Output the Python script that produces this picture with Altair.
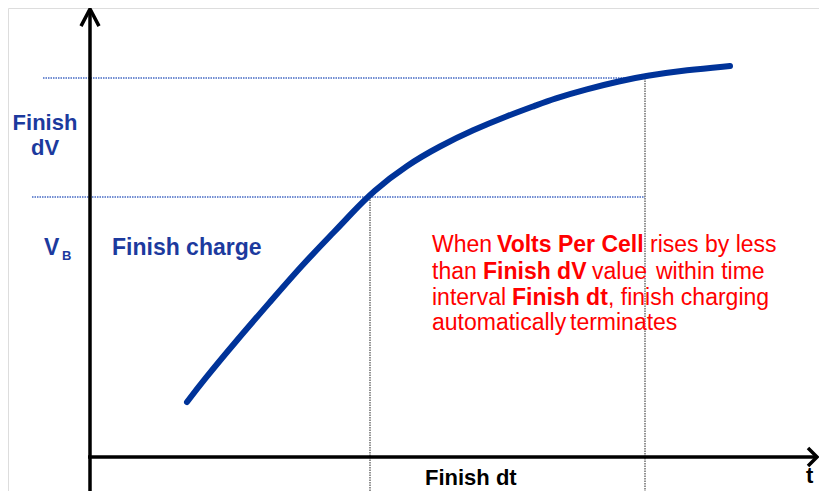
import altair as alt
import pandas as pd

# ---- data (diagram units: t = time, v = volts per cell; origin at axis crossing) ----
curve_t = [97, 113, 147, 180, 213, 247, 260, 283, 317, 350, 383, 417, 447, 463, 497, 530, 555, 597, 640]
curve_v = [55, 76, 117, 155, 193, 228, 242, 266, 292, 311, 327, 341, 352, 358, 368, 376, 381, 387, 391]

level_v = [260, 379]            # V_B and V_B + Finish dV
level_t0 = [-58, -47]
level_t1 = [555, 555]
mark_t = [280, 555]             # start / end of Finish dt
mark_vtop = [260, 379]

T_MIN, T_MAX = -82, 729
V_MIN, V_MAX = -34, 449

red_normal_text = ["When", "rises by less", "than", "value", "within time",
                   "interval", ", finish charging", "automatically", "terminates"]
red_normal_t = [342, 560, 342, 502, 566, 342, 518, 342, 480]
red_normal_v = [205, 205, 178, 178, 178, 152, 152, 127, 127]

red_bold_text = ["Volts Per Cell", "Finish dV", "Finish dt"]
red_bold_t = [407, 393, 422]
red_bold_v = [205, 178, 152]

blue_center_text = ["Finish", "dV"]
blue_center_t = [-45, -45]
blue_center_v = [327, 302]

blue_left_text = ["V", "Finish charge"]
blue_left_t = [-46, 22]
blue_left_v = [202, 202]

sub_text = ["B"]
sub_t = [-28]
sub_v = [197]

black_text = ["Finish dt", "t"]
black_t = [335, 716]
black_v = [-28, -26]

# ---- helpers ----
xs = alt.Scale(domain=[T_MIN, T_MAX], nice=False, zero=False)
ys = alt.Scale(domain=[V_MIN, V_MAX], nice=False, zero=False)
FONT = "Liberation Sans"
BLUE_TXT = "#1c3a9e"
CURVE = "#003399"


def X(f):
    return alt.X(f, type="quantitative", scale=xs, axis=None)


def Y(f):
    return alt.Y(f, type="quantitative", scale=ys, axis=None)


def txt(df, color, weight, size, align="left"):
    return alt.Chart(df).mark_text(
        color=color, fontWeight=weight, fontSize=size, font=FONT,
        align=align, baseline="alphabetic"
    ).encode(x=X("t"), y=Y("v"), text="text:N")


hdf = pd.DataFrame({"v": level_v, "t0": level_t0, "t1": level_t1})
vdf = pd.DataFrame({"t": mark_t, "vtop": mark_vtop, "vbot": [V_MIN] * len(mark_t)})
curve_df = pd.DataFrame({"t": curve_t, "v": curve_v})

hlines = alt.Chart(hdf).mark_rule(color="#4469c4", strokeWidth=1.6, strokeDash=[1.5, 1]).encode(
    y=Y("v"), x=X("t0"), x2="t1")
vlines = alt.Chart(vdf).mark_rule(color="#777777", strokeWidth=1.6, strokeDash=[1.5, 1]).encode(
    x=X("t"), y=Y("vtop"), y2="vbot")

yaxis = alt.Chart(pd.DataFrame({"t": [0], "v0": [V_MIN], "v1": [V_MAX - 1]})).mark_rule(
    color="black", strokeWidth=3.5).encode(x=X("t"), y=Y("v0"), y2="v1")
xaxis = alt.Chart(pd.DataFrame({"v": [0], "t0": [-2], "t1": [T_MAX - 2]})).mark_rule(
    color="black", strokeWidth=3.5).encode(y=Y("v"), x=X("t0"), x2="t1")

up_arrow = alt.Chart(pd.DataFrame({"t": [0], "v": [V_MAX - 1]})).mark_point(
    shape="M-1,1.9L0,0L1,1.9", size=324, filled=False, stroke="black",
    strokeWidth=3.5, opacity=1, strokeJoin="miter").encode(x=X("t"), y=Y("v"))
right_arrow = alt.Chart(pd.DataFrame({"t": [T_MAX - 2], "v": [0]})).mark_point(
    shape="M-1,-1L0,0L-1,1", size=324, filled=False, stroke="black",
    strokeWidth=3.5, opacity=1, strokeJoin="miter").encode(x=X("t"), y=Y("v"))

curve = alt.Chart(curve_df).mark_line(
    color=CURVE, strokeWidth=6, interpolate="basis", strokeCap="round").encode(
    x=X("t"), y=Y("v"), order="t:Q")

t_red_n = txt(pd.DataFrame({"t": red_normal_t, "v": red_normal_v, "text": red_normal_text}),
              "#ff0000", "normal", 23)
t_red_b = txt(pd.DataFrame({"t": red_bold_t, "v": red_bold_v, "text": red_bold_text}),
              "#ff0000", "bold", 23)
t_blue_c = txt(pd.DataFrame({"t": blue_center_t, "v": blue_center_v, "text": blue_center_text}),
               BLUE_TXT, "bold", 22, align="center")
t_blue_l = txt(pd.DataFrame({"t": blue_left_t, "v": blue_left_v, "text": blue_left_text}),
               BLUE_TXT, "bold", 23)
t_sub = txt(pd.DataFrame({"t": sub_t, "v": sub_v, "text": sub_text}), BLUE_TXT, "bold", 13)
t_black = txt(pd.DataFrame({"t": black_t, "v": black_v, "text": black_text}), "black", "bold", 22)

chart = alt.layer(
    hlines, vlines, yaxis, xaxis, up_arrow, right_arrow, curve,
    t_red_n, t_red_b, t_blue_c, t_blue_l, t_sub, t_black
).properties(
    width=T_MAX - T_MIN, height=V_MAX - V_MIN,
    autosize=alt.AutoSizeParams(type="none"), padding=0
).configure_view(strokeWidth=0, stroke="transparent").configure(background="white")

chart.save("out.html", embed_options={"renderer": "svg", "actions": False})
